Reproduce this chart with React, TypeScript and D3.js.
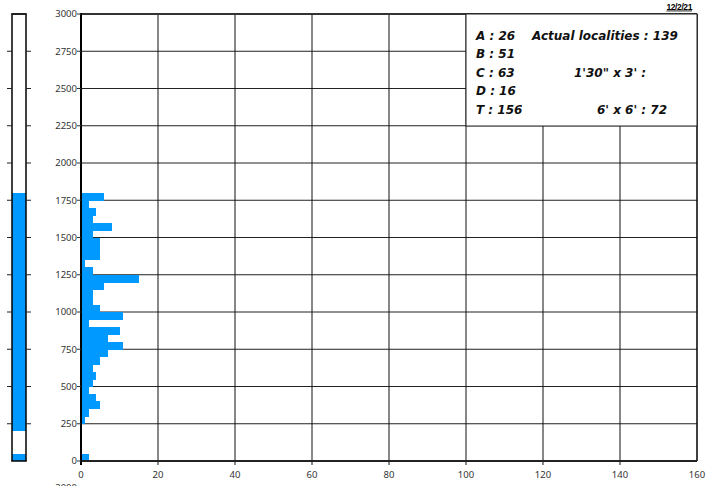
import React from "react";
import * as d3 from "d3";

// Histogram bins (lower edge, elevation-like value) and counts
const binLower = [0, 50, 100, 150, 200, 250, 300, 350, 400, 450, 500, 550, 600, 650, 700, 750, 800, 850, 900, 950, 1000, 1050, 1100, 1150, 1200, 1250, 1300, 1350, 1400, 1450, 1500, 1550, 1600, 1650, 1700, 1750];
const counts = [2, 0, 0, 0, 0, 1, 2, 5, 4, 2, 3, 4, 3, 5, 7, 11, 7, 10, 2, 11, 5, 3, 3, 6, 15, 3, 1, 5, 5, 5, 3, 8, 3, 4, 2, 6];
const binWidth = 50;

const yTicks = [0, 250, 500, 750, 1000, 1250, 1500, 1750, 2000, 2250, 2500, 2750, 3000];
const xTicks = [0, 20, 40, 60, 80, 100, 120, 140, 160];
const sideTicks = [250, 500, 750, 1000, 1250, 1500, 1750, 2000, 2250, 2500, 2750];

// Ranges filled in the side column
const rangeLow = [200, 0];
const rangeHigh = [1800, 50];

const legendLeft = ["A : 26", "B : 51", "C : 63", "D : 16", "T : 156"];
const legendRight = ["Actual localities : 139", "", "1'30\" x 3' :", "", "6' x 6' : 72"];
const dateLabel = "12/2/21";

const W = 712;
const H = 486;
const BLUE = "#0099ff";

export default function App() {
  const x = d3.scaleLinear().domain([0, 160]).range([81, 697]);
  const y = d3.scaleLinear().domain([0, 3000]).range([461, 14]);
  const legFont = "'DejaVu Sans', sans-serif";
  const rightX = [532, 0, 574, 0, 597];
  const rowY = [39.5, 58, 76.5, 95, 113.5];

  return (
    <svg width={W} height={H} style={{ position: "absolute", left: 0, top: 0, background: "#fff" }}>
      <rect x={0} y={0} width={W} height={H} fill="#fff" />
      {/* side column */}
      {rangeLow.map((lo, i) => (
        <rect key={"r" + i} x={12} y={y(rangeHigh[i])} width={14} height={y(lo) - y(rangeHigh[i])} fill={BLUE} shapeRendering="crispEdges" />
      ))}
      <line x1={12} x2={12} y1={y(3000)} y2={y(0)} stroke="#000" strokeWidth={1.5} />
      <line x1={26} x2={26} y1={y(3000)} y2={y(0)} stroke="#000" strokeWidth={1.5} />
      <line x1={11.25} x2={26.75} y1={y(3000)} y2={y(3000)} stroke="#222" strokeWidth={2} />
      <line x1={11.25} x2={26.75} y1={y(0)} y2={y(0)} stroke="#000" strokeWidth={1.5} />
      {sideTicks.map((t) => (
        <g key={"s" + t}>
          <line x1={7} x2={12} y1={y(t)} y2={y(t)} stroke="#222" strokeWidth={1} />
          <line x1={26} x2={31} y1={y(t)} y2={y(t)} stroke="#222" strokeWidth={1} />
        </g>
      ))}

      {/* grid */}
      {yTicks.slice(1, -1).map((t) => (
        <line key={"gy" + t} x1={x(0)} x2={x(160)} y1={y(t)} y2={y(t)} stroke="#222" strokeWidth={1} />
      ))}
      {xTicks.slice(1, -1).map((t) => (
        <line key={"gx" + t} x1={x(t)} x2={x(t)} y1={y(3000)} y2={y(0) + 4} stroke="#111" strokeWidth={1} />
      ))}

      {/* histogram */}
      {binLower.map((b, i) =>
        counts[i] > 0 ? (
          <rect key={"b" + b} x={x(0)} y={y(b + binWidth)} width={x(counts[i]) - x(0)} height={y(b) - y(b + binWidth) + 0.5} fill={BLUE} shapeRendering="crispEdges" />
        ) : null
      )}

      {/* frame */}
      <line x1={x(0)} x2={x(160)} y1={y(3000)} y2={y(3000)} stroke="#333" strokeWidth={2} />
      <line x1={x(160)} x2={x(160)} y1={y(3000)} y2={y(0)} stroke="#000" strokeWidth={1.5} />
      <line x1={x(0)} x2={x(160)} y1={y(0)} y2={y(0)} stroke="#222" strokeWidth={2} />
      <line x1={x(0)} x2={x(0)} y1={y(3000) - 1} y2={y(0) + 4} stroke="#000" strokeWidth={2} />

      {/* y axis ticks + labels */}
      {yTicks.map((t) => (
        <g key={"yt" + t}>
          <line x1={77} x2={x(0)} y1={y(t)} y2={y(t)} stroke="#333" strokeWidth={1} />
          <text x={77} y={y(t)} dy="0.35em" textAnchor="end" fontFamily="'Noto Sans', sans-serif" fontSize={9.5} fill="#333">
            {t}
          </text>
        </g>
      ))}
      {/* x labels */}
      {xTicks.map((t) => (
        <text key={"xt" + t} x={x(t)} y={477.5} textAnchor="middle" fontFamily="'Noto Sans', sans-serif" fontSize={9.5} fill="#333">
          {t}
        </text>
      ))}
      {/* clipped label of next panel (cut off in the reference too) */}
      <text x={77} y={491} textAnchor="end" fontFamily="'Noto Sans', sans-serif" fontSize={9.5} fill="#333">
        3000
      </text>

      {/* legend box */}
      <rect x={466} y={y(3000)} width={x(160) - 466} height={126 - y(3000)} fill="#fff" stroke="#222" strokeWidth={1} />
      {legendLeft.map((s, i) => (
        <text key={"ll" + i} x={476} y={rowY[i]} fontFamily={legFont} fontStyle="italic" fontWeight="bold" fontSize={12} fill="#111">
          {s}
        </text>
      ))}
      {legendRight.map((s, i) =>
        s ? (
          <text key={"lr" + i} x={rightX[i]} y={rowY[i]} fontFamily={legFont} fontStyle="italic" fontWeight="bold" fontSize={12} fill="#111">
            {s}
          </text>
        ) : null
      )}

      {/* date */}
      <text x={692} y={9.5} textAnchor="end" fontFamily="'Liberation Sans', sans-serif" fontWeight="bold" fontSize={8.5} fill="#000" textDecoration="underline" letterSpacing={-0.4}>
        {dateLabel}
      </text>
    </svg>
  );
}
